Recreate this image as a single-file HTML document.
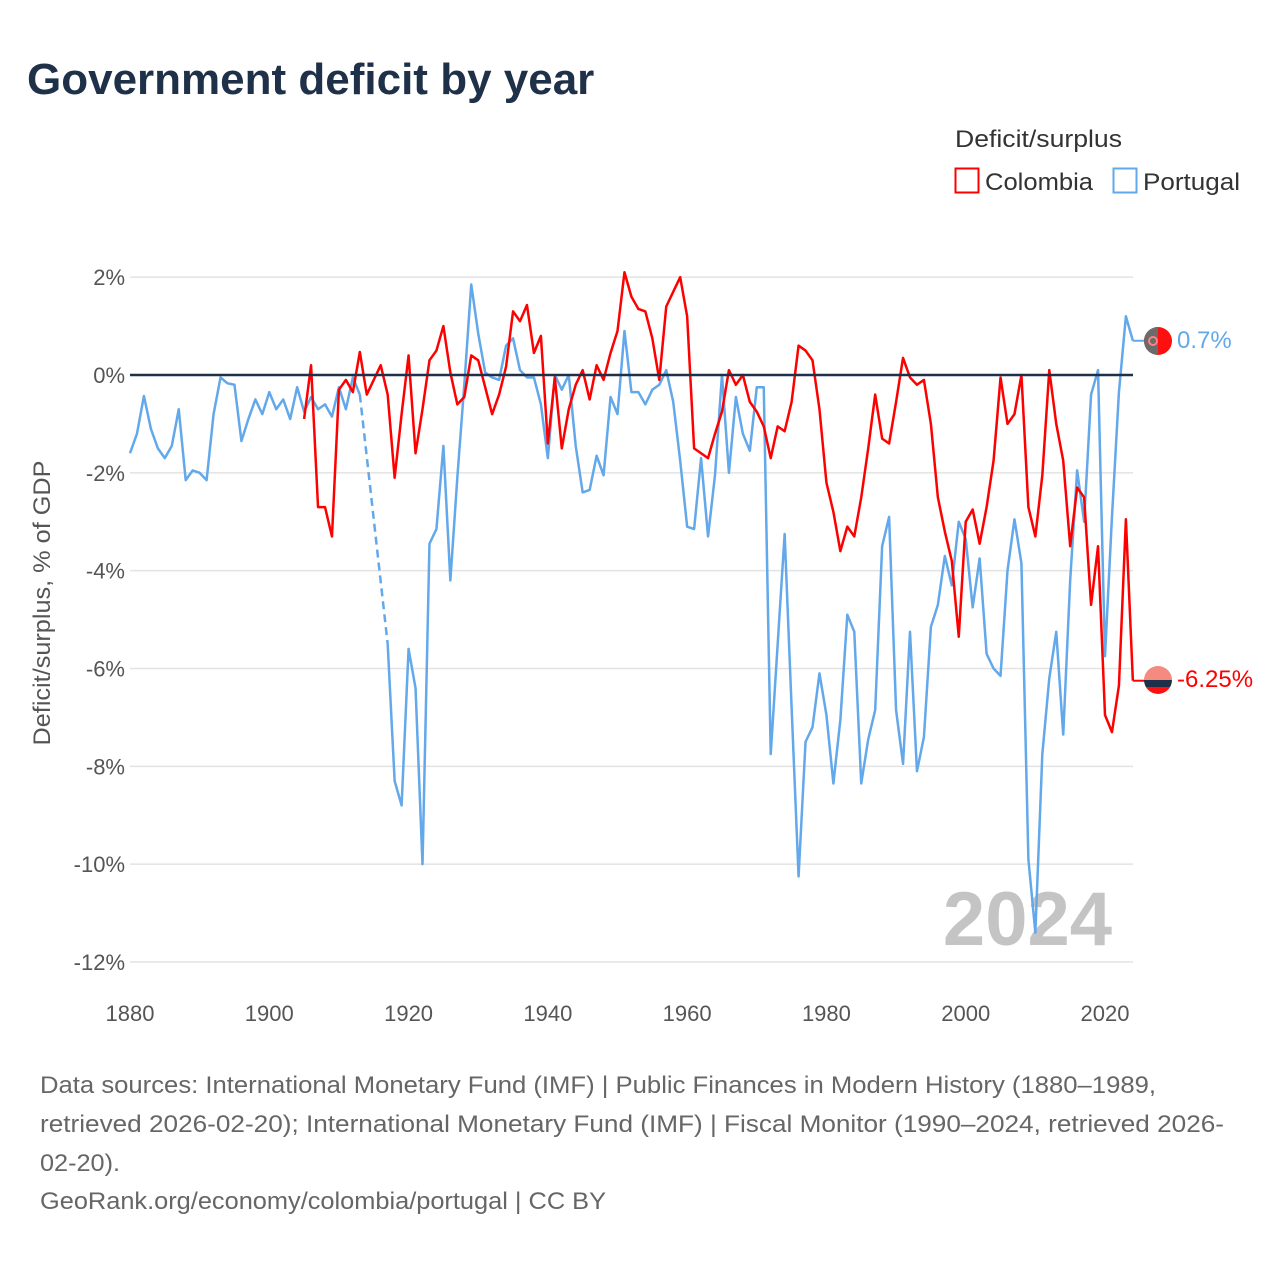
<!DOCTYPE html>
<html><head><meta charset="utf-8">
<style>
body{margin:0;background:#fff;width:1280px;height:1280px;overflow:hidden;font-family:"Liberation Sans",sans-serif;}
svg text{font-family:"Liberation Sans",sans-serif;}
</style></head>
<body>
<svg id="chart" width="1280" height="1280" xmlns="http://www.w3.org/2000/svg">
<text x="27" y="94" font-size="44" font-weight="bold" fill="#1f3049">Government deficit by year</text>
<text x="955" y="147" font-size="24" fill="#333" textLength="167" lengthAdjust="spacingAndGlyphs">Deficit/surplus</text>
<g>
<rect x="955.5" y="168.5" width="23" height="24" fill="#fff" stroke="#ff0000" stroke-width="2"/>
<text x="985" y="190" font-size="24" fill="#333" textLength="108" lengthAdjust="spacingAndGlyphs">Colombia</text></g>
<g>
<rect x="1113.5" y="168.5" width="23" height="24" fill="#fff" stroke="#62a8ea" stroke-width="2"/>
<text x="1143" y="190" font-size="24" fill="#333" textLength="97" lengthAdjust="spacingAndGlyphs">Portugal</text></g>
<g id="grid"></g>
<g id="xaxis"></g>
<g id="yaxis"></g>
<text transform="translate(50,603) rotate(-90)" text-anchor="middle" font-size="24" fill="#555" textLength="285" lengthAdjust="spacingAndGlyphs">Deficit/surplus, % of GDP</text>
<text x="1112" y="945" text-anchor="end" font-size="76" font-weight="bold" fill="#c4c4c4">2024</text>
<g id="series"></g>
<g>
<circle cx="1158" cy="341" r="14" fill="#ff1010"/>
<path d="M1158 327 A14 14 0 0 0 1158 355 Z" fill="#6b6b6b"/>
<circle cx="1153" cy="341" r="4" fill="none" stroke="#ff8080" stroke-width="2"/>
</g>
<text x="1177" y="348" font-size="24" fill="#62a8ea">0.7%</text>
<g>
<clipPath id="cc"><circle cx="1158" cy="680" r="14"/></clipPath>
<g clip-path="url(#cc)">
<rect x="1144" y="666" width="28" height="14" fill="#f58a80"/>
<rect x="1144" y="680" width="28" height="7" fill="#1f3049"/>
<rect x="1144" y="687" width="28" height="7" fill="#ff1010"/>
</g></g>
<text x="1177" y="687" font-size="24" fill="#ff0000">-6.25%</text>
<g font-size="24" fill="#666">
<text x="40" y="1093" textLength="1116" lengthAdjust="spacingAndGlyphs">Data sources: International Monetary Fund (IMF) | Public Finances in Modern History (1880–1989,</text>
<text x="40" y="1132" textLength="1184" lengthAdjust="spacingAndGlyphs">retrieved 2026-02-20); International Monetary Fund (IMF) | Fiscal Monitor (1990–2024, retrieved 2026-</text>
<text x="40" y="1171" textLength="80" lengthAdjust="spacingAndGlyphs">02-20).</text>
<text x="40" y="1209" textLength="566" lengthAdjust="spacingAndGlyphs">GeoRank.org/economy/colombia/portugal | CC BY</text>
</g>
</svg>
<script>
const portugalStart = 1880;
const portugalValues = [-1.6,-1.2,-0.43,-1.1,-1.5,-1.7,-1.45,-0.7,-2.15,-1.95,
-2.0,-2.15,-0.8,-0.05,-0.17,-0.2,-1.35,-0.9,-0.5,-0.8,
-0.35,-0.7,-0.5,-0.9,-0.25,-0.75,-0.45,-0.7,-0.6,-0.85,
-0.25,-0.7,-0.05,-0.4,null,null,null,-5.5,-8.3,-8.8,
-5.6,-6.4,-10.0,-3.45,-3.15,-1.45,-4.2,-2.1,-0.2,1.85,
0.85,0.05,-0.05,-0.1,0.6,0.75,0.1,-0.05,-0.05,-0.6,
-1.7,0.0,-0.3,0.0,-1.45,-2.4,-2.35,-1.65,-2.05,-0.45,
-0.8,0.9,-0.35,-0.35,-0.6,-0.3,-0.2,0.1,-0.55,-1.75,
-3.1,-3.15,-1.7,-3.3,-2.05,0.0,-2.0,-0.45,-1.2,-1.55,
-0.25,-0.25,-7.75,-5.5,-3.25,-6.8,-10.25,-7.5,-7.2,-6.1,
-6.95,-8.35,-7.05,-4.9,-5.25,-8.35,-7.45,-6.85,-3.5,-2.9,
-6.85,-7.95,-5.25,-8.1,-7.4,-5.15,-4.7,-3.7,-4.3,-3.0,
-3.35,-4.75,-3.75,-5.7,-6.0,-6.15,-4.0,-2.95,-3.85,-9.9,
-11.4,-7.75,-6.2,-5.25,-7.35,-4.2,-1.95,-3.0,-0.4,0.1,
-5.75,-2.9,-0.35,1.2,0.7];
const colombiaStart = 1905;
const colombiaValues = [-0.9,0.2,-2.7,-2.7,-3.3,-0.3,-0.1,-0.35,0.47,-0.4,
-0.1,0.2,-0.4,-2.1,-0.8,0.4,-1.6,-0.7,0.3,0.5,
1.0,0.05,-0.6,-0.45,0.4,0.3,-0.25,-0.8,-0.4,0.17,
1.3,1.1,1.43,0.45,0.8,-1.4,-0.05,-1.5,-0.7,-0.2,
0.1,-0.5,0.2,-0.1,0.45,0.9,2.1,1.6,1.35,1.3,
0.75,-0.1,1.4,1.7,2.0,1.2,-1.5,-1.6,-1.7,-1.2,
-0.75,0.1,-0.2,0.0,-0.55,-0.75,-1.05,-1.7,-1.05,-1.15,
-0.55,0.6,0.5,0.3,-0.7,-2.2,-2.8,-3.6,-3.1,-3.3,
-2.5,-1.5,-0.4,-1.3,-1.4,-0.55,0.35,-0.05,-0.2,-0.1,
-1.0,-2.5,-3.2,-3.8,-5.35,-3.0,-2.75,-3.45,-2.7,-1.75,
-0.05,-1.0,-0.8,0.0,-2.7,-3.3,-2.05,0.1,-1.0,-1.75,
-3.5,-2.3,-2.5,-4.7,-3.5,-6.95,-7.3,-6.35,-2.95,-6.25];
const yTicks = [2,0,-2,-4,-6,-8,-10,-12];
const yTickLabels = ["2%","0%","-2%","-4%","-6%","-8%","-10%","-12%"];
const xTicks = [1880,1900,1920,1940,1960,1980,2000,2020];

const NS="http://www.w3.org/2000/svg";
const X0=130,X1=1133;
function xs(yr){return 130+(yr-1880)*(1105-130)/140;}
function ys(v){return 375-v*(962-375)/12;}
function mk(tag,attrs,parent){const e=document.createElementNS(NS,tag);for(const k in attrs)e.setAttribute(k,attrs[k]);parent.appendChild(e);return e;}
const grid=document.getElementById('grid'),xa=document.getElementById('xaxis'),ya=document.getElementById('yaxis'),ser=document.getElementById('series');
yTicks.forEach((t,i)=>{
  if(t!==0){const l=mk('line',{x1:X0,x2:X1,y1:ys(t),y2:ys(t),stroke:'#e3e3e3','stroke-width':1.5},grid);
  
  }
  const tx=mk('text',{x:125,y:ys(t)+8,'text-anchor':'end','font-size':22,fill:'#555'},ya);
  
  
  tx.textContent=yTickLabels[i];
});
xTicks.forEach(t=>{
  const tx=mk('text',{x:xs(t),y:1021,'text-anchor':'middle','font-size':22,fill:'#555'},xa);
  
  
  tx.textContent=t;
});
function drawSeries(start,vals,color,name){
  let segs=[],cur=[];
  vals.forEach((v,i)=>{if(v===null){if(cur.length)segs.push(cur);cur=[];}else cur.push([xs(start+i),ys(v)]);});
  if(cur.length)segs.push(cur);
  segs.forEach(s=>{
    const p=mk('polyline',{points:s.map(q=>q.join(',')).join(' '),fill:'none',stroke:color,'stroke-width':2.5,'stroke-linejoin':'round'},ser);
    
    
  });
  for(let i=1;i<segs.length;i++){
    const a=segs[i-1][segs[i-1].length-1],b=segs[i][0];
    const d=mk('line',{x1:a[0],y1:a[1],x2:b[0],y2:b[1],stroke:color,'stroke-width':2.5,'stroke-dasharray':'8,5'},ser);
    
    
  }
  const last=vals[vals.length-1];
  const st=mk('line',{x1:xs(start+vals.length-1),y1:ys(last),x2:1145,y2:ys(last),stroke:color,'stroke-width':2},ser);
  
  
}
drawSeries(portugalStart,portugalValues,'#62a8ea','portugal');
drawSeries(colombiaStart,colombiaValues,'#ff0000','colombia');
const z=mk('line',{x1:X0,x2:X1,y1:ys(0),y2:ys(0),stroke:'#1f3049','stroke-width':2.5},ser);


</script>
</body></html>
